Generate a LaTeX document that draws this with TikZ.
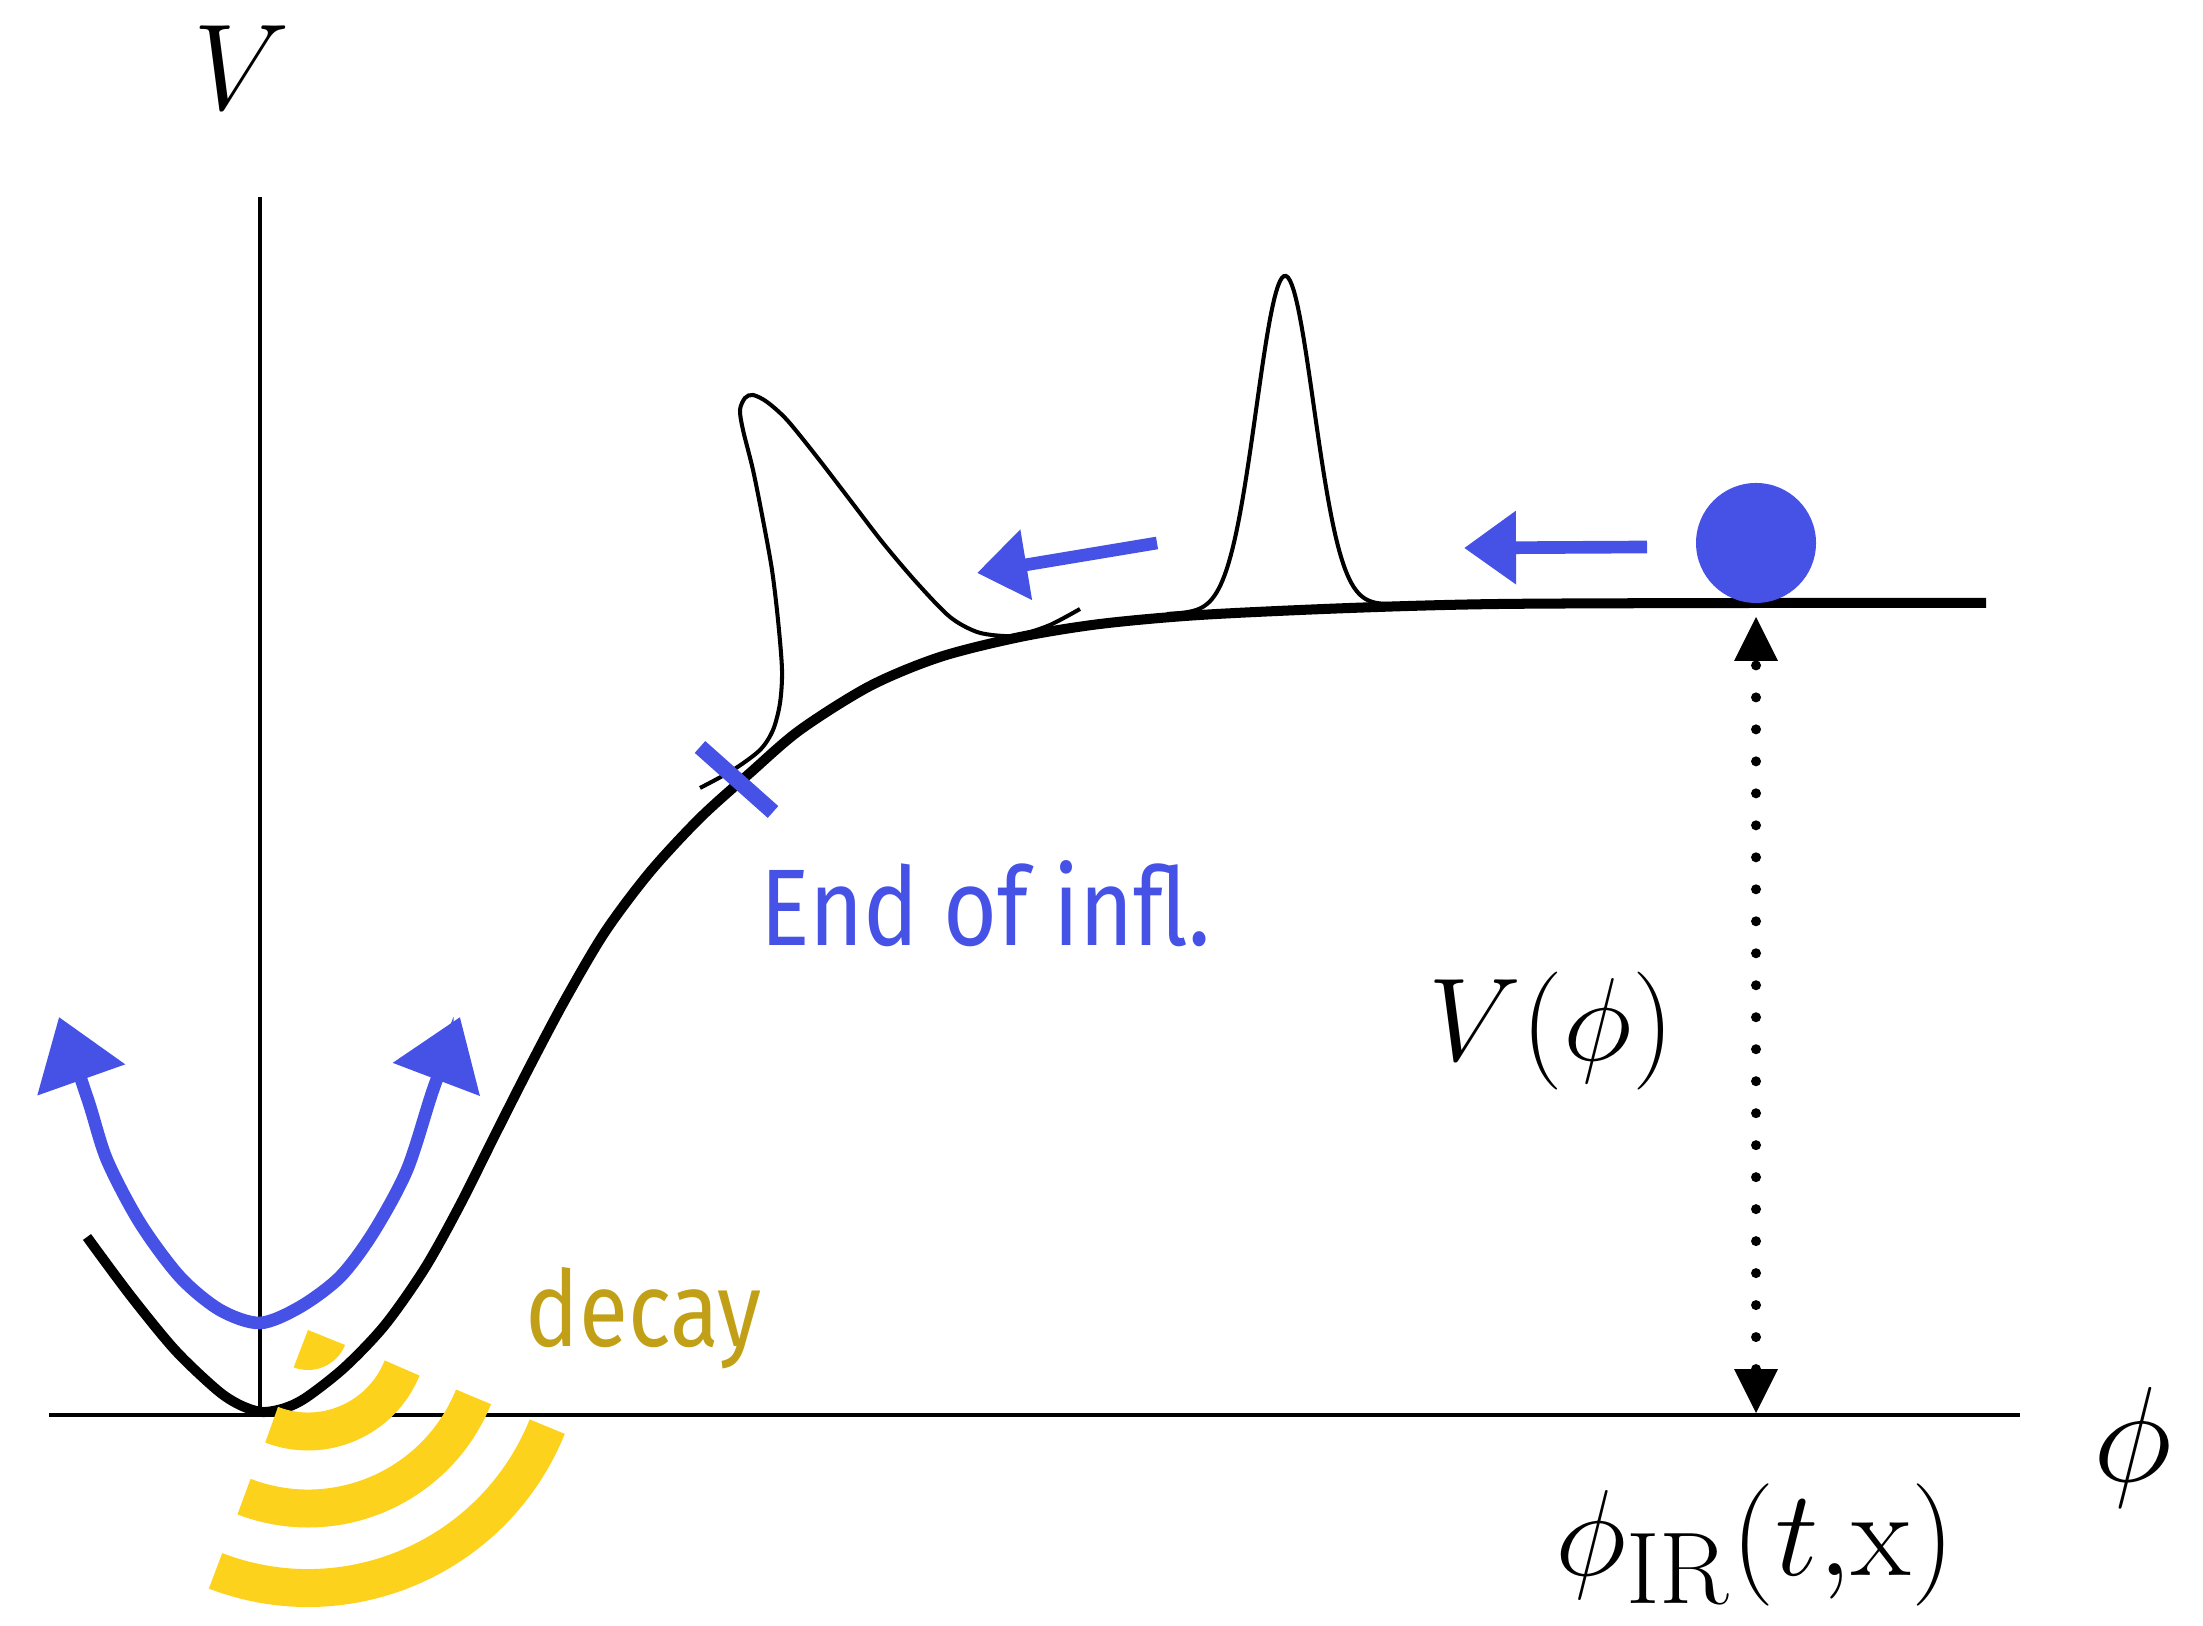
\documentclass[tikz,border=0pt]{standalone}
\usepackage{fontspec}
\newfontfamily\notefont[FakeStretch=0.85]{Fira Sans}
\usetikzlibrary{arrows.meta}
\definecolor{chalkblue}{RGB}{70,82,230}
\definecolor{signalyellow}{RGB}{252,210,28}
\definecolor{decaygold}{RGB}{193,160,24}

\begin{document}
\begin{tikzpicture}[
  curve/.style={line width=2.85pt},
  packet/.style={line width=1.15pt},
  axis/.style={line width=0.95pt},
  chalk/.style={draw=chalkblue,line width=3.6pt},
  band/.style={draw=signalyellow,line width=10.8pt},
  txt/.style={inner sep=0pt,anchor=base,font=\fontsize{24.88}{30}\selectfont},
]
\useasboundingbox (0,0) rectangle (22.03,16.26);
\draw[axis] (0.49,2.11) -- (20.20,2.11);
\draw[axis] (2.60,14.29) -- (2.60,2.11);
\draw[curve] plot[smooth] coordinates {(0.87,3.89) (1.30,3.31) (1.75,2.76) (2.17,2.36) (2.40,2.21) (2.62,2.14) (2.85,2.18) (3.07,2.29) (3.45,2.59) (3.85,3.01) (4.25,3.58) (4.60,4.21) (4.95,4.91) (5.30,5.60) (5.65,6.26) (6.05,6.94) (6.50,7.54) (7.00,8.08) (7.50,8.53) (8.00,8.96) (8.70,9.40) (9.40,9.69) (10.20,9.89) (11.00,10.02) (12.00,10.11) (13.50,10.18) (15.00,10.22) (17.56,10.23) (19.86,10.23)};
\draw[packet] plot[smooth] coordinates {(7.00,8.38) (7.33,8.56) (7.60,8.76) (7.73,8.96) (7.80,9.23) (7.82,9.56) (7.78,10.06) (7.72,10.56) (7.63,11.06) (7.53,11.56) (7.43,11.96) (7.40,12.16) (7.45,12.28) (7.53,12.31) (7.67,12.24) (7.87,12.06) (8.17,11.69) (8.50,11.26) (8.83,10.83) (9.17,10.43) (9.50,10.09) (9.77,9.94) (10.03,9.90) (10.20,9.91) (10.50,10.01) (10.80,10.17)};
\draw[packet,domain=11.67:14.03,samples=120] plot(\x,{10.12+0.043*(\x-11.67)+3.33*exp(-((\x-12.85)^2)/0.1647)});
\draw[chalk,line width=4.5pt] (7.00,8.79) -- (7.73,8.14);
\node[txt,anchor=base west,text=chalkblue,font=\notefont\fontsize{31}{31}\selectfont] (endinfl) at (7.60,6.80) {End of infl.};
\node[circle,fill=chalkblue,minimum size=1.2cm,inner sep=0pt] (inflaton) at (17.56,10.83) {};
\coordinate (rollA) at (16.47,10.79);
\coordinate (rollB) at (14.64,10.78);
\draw[chalk,-{Triangle[length=14.8pt,width=20pt]}] (rollA) -- (rollB);
\coordinate (slideA) at (11.57,10.83);
\coordinate (slideB) at (9.77,10.53);
\draw[chalk,-{Triangle[length=14.2pt,width=19.4pt]}] (slideA) -- (slideB);
\coordinate (foot) at (17.56,2.13);
\coordinate (top) at (17.56,10.09);
\draw[line width=2.85pt,line cap=round,dash pattern=on 0pt off 9.1pt,{Triangle[length=12.5pt,width=12.5pt,line width=0pt]}-{Triangle[length=12.5pt,width=12.5pt,line width=0pt]}] (foot) -- (top);
\coordinate (source) at (3.08,2.96);
\fill[signalyellow] (source) -- ++(-111:0.40) arc[start angle=-111,end angle=-22,radius=0.40] -- cycle;
\foreach \r in {1.015,1.785,2.58}
  \draw[band] ([shift={(-111:\r)}]source) arc[start angle=-111,end angle=-22,radius=\r];
\node[txt,anchor=base west,text=decaygold,font=\notefont\fontsize{30}{30}\selectfont] (decay) at (5.25,2.79) {decay};
\draw[chalk,{Triangle[length=19pt,width=25.6pt]}-{Triangle[length=19pt,width=25.6pt]}] plot[smooth] coordinates {(0.59,6.09) (0.88,5.26) (1.07,4.66) (1.40,4.03) (1.80,3.49) (2.20,3.16) (2.60,3.03) (3.00,3.19) (3.40,3.49) (3.73,3.93) (4.07,4.56) (4.33,5.36) (4.60,6.09)};
\node[txt] (vaxis) at (2.42,15.16) {\scalebox{1.4}{$V$}};
\node[txt] (phiaxis) at (21.33,1.44) {\scalebox{1.55}{$\phi$}};
\node[txt,anchor=base west] (vofphi) at (14.28,5.65) {\scalebox{1.35}{$V(\phi)$}};
\node[txt] (phiir) at (17.55,0.50) {\scalebox{1.4}{$\phi_{\mathrm{IR}}(t{,}\mathrm{x})$}};
\end{tikzpicture}
\end{document}
